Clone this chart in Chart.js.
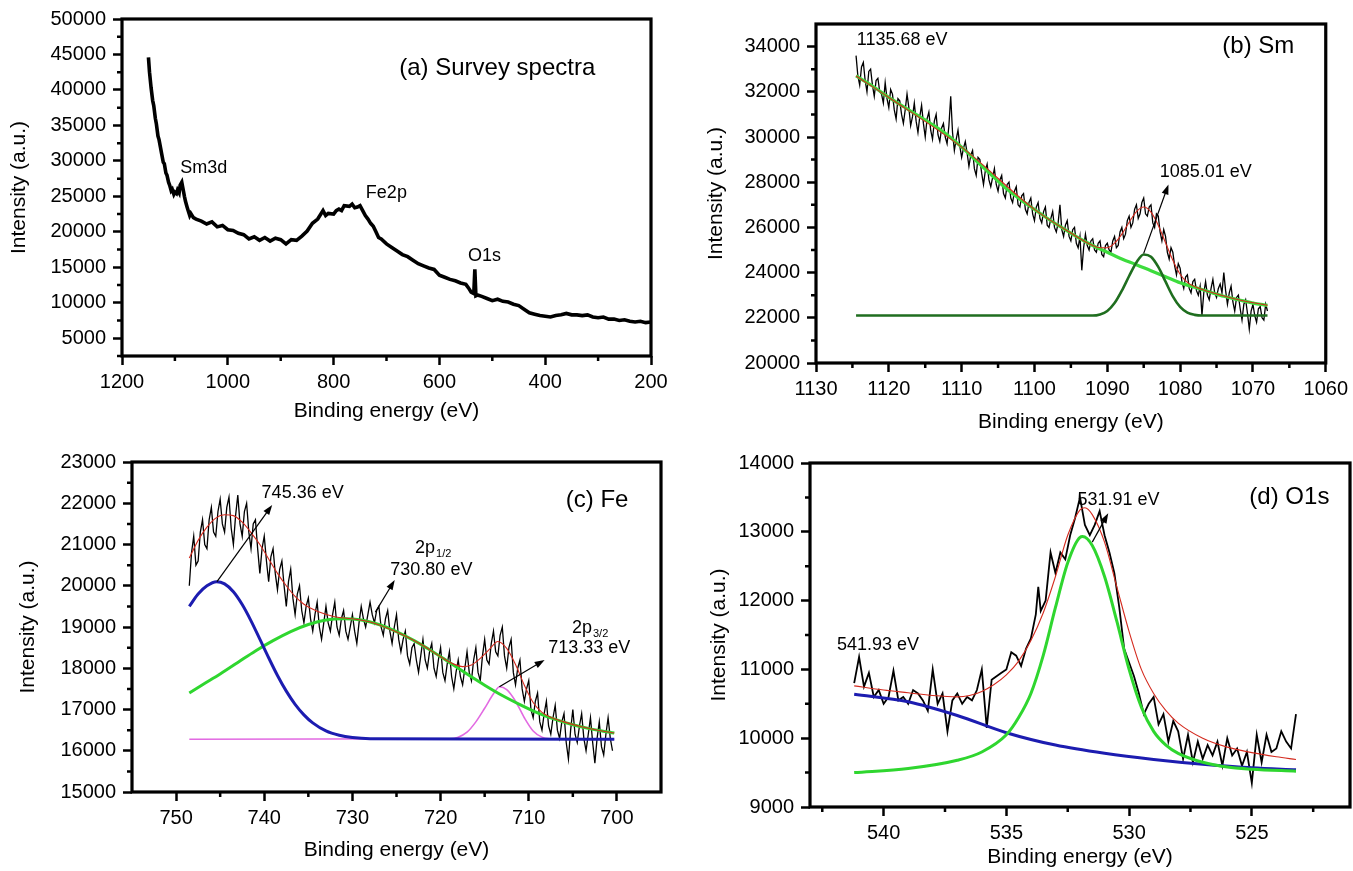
<!DOCTYPE html>
<html>
<head>
<meta charset="utf-8">
<script src="https://cdn.jsdelivr.net/npm/chart.js@4.4.1/dist/chart.umd.min.js"></script>
<style>
    html, body { margin: 0; padding: 0; background: #fff; }
    body { width: 1353px; height: 871px; position: relative; overflow: hidden; }
    canvas { position: absolute; }
</style>
</head>
<body>
<canvas id="survey-chart" width="680" height="430" style="left:0;top:0"></canvas>
<canvas id="sm-chart" width="673" height="445" style="left:680px;top:0"></canvas>
<canvas id="fe-chart" width="680" height="441" style="left:0;top:430px"></canvas>
<canvas id="o-chart" width="673" height="441" style="left:680px;top:430px"></canvas>
<script>
// (a) survey spectrum
const surveyEnergy = [1150,1148,1145,1142,1140,1137,1135,1132,1130,1127,1125,1122,1120,1117,1115,1112,1110,1107,1105,1102,1100,1097,1095,1092,1090,1087,1085,1082,1080,1077,1075,1072,1070,1065,1060,1050,1040,1030,1020,1010,1000,990,980,970,960,950,940,930,920,910,900,890,880,870,860,850,840,830,820,815,810,800,795,790,785,780,770,765,760,755,750,745,740,735,730,725,720,715,710,700,690,680,670,660,650,640,630,620,610,600,590,580,570,560,550,545,540,535,533,531,528,520,510,500,490,480,470,460,450,440,430,420,410,400,390,380,370,360,350,340,330,320,310,300,290,280,270,260,250,240,230,220,210,200];
const surveyCounts = [44600,42500,40300,38500,37800,36000,35200,33500,33000,31800,31000,29800,29600,28300,28000,27000,26600,25800,26000,25300,25600,25400,25900,25500,26600,27000,26200,25000,24300,23500,23000,22300,22600,22000,21800,21500,21100,21400,20700,20900,20300,20200,19800,19600,19000,19300,18800,19200,18700,19100,18900,18300,18900,18800,19400,20100,21200,21800,23000,22300,22600,22500,23000,23200,23000,23700,23600,23900,23400,23500,23700,23000,22300,21800,21200,20800,20000,19200,19000,18300,17800,17300,16800,16500,16000,15500,15200,14900,14700,13900,13600,13300,13100,12800,12600,12100,11500,11300,14700,11000,11100,10900,10600,10300,10500,10200,10100,9800,9600,9100,8600,8400,8200,8100,8000,8200,8300,8500,8300,8300,8200,8300,8000,7900,8000,7700,7700,7500,7600,7400,7300,7400,7200,7300];
const surveyTicksX = [1200, 1000, 800, 600, 400, 200];
const surveyMinorX = [1100, 900, 700, 500, 300];
const surveyTicksY = [5000, 10000, 15000, 20000, 25000, 30000, 35000, 40000, 45000, 50000];
const surveyMinorY = [2500, 7500, 12500, 17500, 22500, 27500, 32500, 37500, 42500, 47500];

// (b) Sm 3d
const smEnergy = [1124.5,
    1124.25,1124,1123.75,1123.5, 1123.25,1123,1122.75,1122.5, 1122.25,1122,1121.75,1121.5, 1121.25,1121,1120.75,1120.5,
    1120.25,1120,1119.75,1119.5, 1119.25,1119,1118.75,1118.5, 1118.25,1118,1117.75,1117.5, 1117.25,1117,1116.75,1116.5,
    1116.25,1116,1115.75,1115.5, 1115.25,1115,1114.75,1114.5, 1114.25,1114,1113.75,1113.5, 1113.25,1113,1112.75,1112.5,
    1112.25,1112,1111.75,1111.5, 1111.25,1111,1110.75,1110.5, 1110.25,1110,1109.75,1109.5, 1109.25,1109,1108.75,1108.5,
    1108.25,1108,1107.75,1107.5, 1107.25,1107,1106.75,1106.5, 1106.25,1106,1105.75,1105.5, 1105.25,1105,1104.75,1104.5,
    1104.25,1104,1103.75,1103.5, 1103.25,1103,1102.75,1102.5, 1102.25,1102,1101.75,1101.5, 1101.25,1101,1100.75,1100.5,
    1100.25,1100,1099.75,1099.5, 1099.25,1099,1098.75,1098.5, 1098.25,1098,1097.75,1097.5, 1097.25,1097,1096.75,1096.5,
    1096.25,1096,1095.75,1095.5, 1095.25,1095,1094.75,1094.5, 1094.25,1094,1093.75,1093.5, 1093.25,1093,1092.75,1092.5,
    1092.25,1092,1091.75,1091.5, 1091.25,1091,1090.75,1090.5, 1090.25,1090,1089.75,1089.5, 1089.25,1089,1088.75,1088.5,
    1088.25,1088,1087.75,1087.5, 1087.25,1087,1086.75,1086.5, 1086.25,1086,1085.75,1085.5, 1085.25,1085,1084.75,1084.5,
    1084.25,1084,1083.75,1083.5, 1083.25,1083,1082.75,1082.5, 1082.25,1082,1081.75,1081.5, 1081.25,1081,1080.75,1080.5,
    1080.25,1080,1079.75,1079.5, 1079.25,1079,1078.75,1078.5, 1078.25,1078,1077.75,1077.5, 1077.25,1077,1076.75,1076.5,
    1076.25,1076,1075.75,1075.5, 1075.25,1075,1074.75,1074.5, 1074.25,1074,1073.75,1073.5, 1073.25,1073,1072.75,1072.5,
    1072.25,1072,1071.75,1071.5, 1071.25,1071,1070.75,1070.5, 1070.25,1070,1069.75,1069.5, 1069.25,1069,1068.75,1068.5,
    1068.25,1068];
const smCounts = [33600,
    32700,32300,33100,33300, 32500,32000,32900,33000, 32300,31800,32500,32600, 32000,31900,31500,32400,
    31700,31300,32100,31900, 31200,30800,31700,31600, 31000,30600,31200,31900, 31300,30500,30900,31500,
    30700,30200,30900,31400, 30600,30000,30800,31100, 30300,29900,30700,31000, 30100,29800,30400,30600,
    30000,29700,30500,31800, 30200,29400,29900,30300, 29600,29100,29500,29800, 29300,28700,29200,29400,
    28600,28300,29100,29000, 28400,27900,28500,28800, 28100,27800,28200,28600, 27900,27600,28100,28300,
    27500,27300,27900,28000, 27300,27100,27600,27800, 27000,26900,27400,27500, 26800,26600,27100,27300,
    26600,26300,26900,27100, 26400,26200,26700,26900, 26100,26000,26400,26700, 26000,25800,26200,27000,
    25900,25600,26100,26300, 25600,25400,25900,26000, 25300,25100,25600,24100, 25100,25700,25200,25000,
    25400,25500,25000,24900, 25300,25400,24800,24700, 25200,25300,25000,24900, 25400,25600,25100,25200,
    25800,26000,25500,25700, 26300,26500,26000,26200, 26800,27000,26400,26600, 27100,27300,26600,26500,
    26900,27000,26200,26000, 26600,26500,25800,25400, 25900,25600,24900,24600, 25100,24900,24300,23900,
    24400,24200,23600,23300, 23800,23900,23300,23100, 23600,23700,23200,23000, 23400,22100,23100,23600,
    23000,22800,23300,23700, 23100,22900,23300,23500, 23100,24000,23200,22600, 23100,23400,22700,22300,
    22900,23000,22400,21900, 22600,22800,22200,21500, 22300,22600,22100,21800, 22400,22500,22000,21900,
    22600,22300];
const smBackEnergy = [1124.5,1122,1120,1118,1116,1114,1112,1110,1108,1106,1104,1102,1100,1098,1096,1094,1092,1090,1088,1086,1084,1082,1080,1078,1076,1074,1072,1070,1068];
const smBackCounts = [32700,32200,31750,31350,30950,30550,30100,29550,28950,28350,27750,27250,26800,26350,25950,25550,25200,24900,24600,24350,24080,23820,23550,23350,23150,22950,22800,22650,22550];
const smPeakEnergy = [1124.5,1092,1091,1090,1089,1088,1087,1086,1085,1084,1083,1082,1081,1080,1079,1078,1077,1068];
const smPeakCounts = [22100,22100,22150,22300,22650,23200,23850,24450,24800,24700,24250,23600,22950,22480,22230,22130,22100,22100];
const smFitEnergy = [1124.5,1120,1110,1100,1095,1092,1091,1090,1089,1088,1087,1086,1085,1084,1083,1082,1081,1080,1079,1078,1076,1072,1068];
const smFitCounts = [32700,31750,29550,26800,25750,25200,25100,25100,25300,25700,26230,26700,26900,26680,26100,25320,24550,23930,23570,23380,23150,22800,22550];
const smTicksX = [1130, 1120, 1110, 1100, 1090, 1080, 1070, 1060];
const smMinorX = [1125, 1115, 1105, 1095, 1085, 1075, 1065];
const smTicksY = [20000, 22000, 24000, 26000, 28000, 30000, 32000, 34000];
const smMinorY = [21000, 23000, 25000, 27000, 29000, 31000, 33000];

// (c) Fe 2p
const feEnergy = [748.5,
    748.25,748,747.75,747.5, 747.25,747,746.75,746.5, 746.25,746,745.75,745.5, 745.25,745,744.75,744.5,
    744.25,744,743.75,743.5, 743.25,743,742.75,742.5, 742.25,742,741.75,741.5, 741.25,741,740.75,740.5,
    740.25,740,739.75,739.5, 739.25,739,738.75,738.5, 738.25,738,737.75,737.5, 737.25,737,736.75,736.5,
    736.25,736,735.75,735.5, 735.25,735,734.75,734.5, 734.25,734,733.75,733.5, 733.25,733,732.75,732.5,
    732.25,732,731.75,731.5, 731.25,731,730.75,730.5, 730.25,730,729.75,729.5, 729.25,729,728.75,728.5,
    728.25,728,727.75,727.5, 727.25,727,726.75,726.5, 726.25,726,725.75,725.5, 725.25,725,724.75,724.5,
    724.25,724,723.75,723.5, 723.25,723,722.75,722.5, 722.25,722,721.75,721.5, 721.25,721,720.75,720.5,
    720.25,720,719.75,719.5, 719.25,719,718.75,718.5, 718.25,718,717.75,717.5, 717.25,717,716.75,716.5,
    716.25,716,715.75,715.5, 715.25,715,714.75,714.5, 714.25,714,713.75,713.5, 713.25,713,712.75,712.5,
    712.25,712,711.75,711.5, 711.25,711,710.75,710.5, 710.25,710,709.75,709.5, 709.25,709,708.75,708.5,
    708.25,708,707.75,707.5, 707.25,707,706.75,706.5, 706.25,706,705.75,705.5, 705.25,705,704.75,704.5,
    704.25,704,703.75,703.5, 703.25,703,702.75,702.5, 702.25,702,701.75,701.5, 701.25,701,700.75,700.5];
const feCounts = [20000,
    20800,21200,20500,20600, 21300,21600,21000,20900, 21600,21900,21300,21200, 21800,22100,21500,21300,
    21900,22150,21400,21000, 21700,22200,21500,21200, 21800,22000,21300,20900, 21500,21600,20900,20300,
    20900,21200,20600,20100, 20700,20900,20300,19900, 20400,20600,20000,19500, 20100,20400,19700,19300,
    19800,20000,19400,19100, 19500,19700,19200,18900, 19300,19600,19000,18700, 19100,19500,19100,18900,
    19300,19600,19000,18800, 19200,19400,18900,18700, 19000,19300,18900,18600, 19100,19500,19200,19000,
    19300,19600,19300,19100, 19400,19500,19000,18800, 19200,19400,18900,18600, 19000,19300,18700,18400,
    18700,18900,18300,18100, 18500,18600,18200,17900, 18300,18700,18200,18000, 18400,18600,18000,17800,
    18200,18500,17900,17700, 18100,18400,17800,17500, 17900,18200,17800,17600, 18000,18400,17900,17700,
    18200,18500,17900,17700, 18300,18700,18200,18100, 18600,18900,18400,18300, 18800,19000,18300,18000,
    18500,18700,17900,17600, 18000,18200,17500,17200, 17500,17700,17000,16800, 17200,17400,16700,16500,
    16900,17200,16600,16400, 16800,17100,16500,16300, 16700,16900,16200,15800, 16500,17000,16400,16200,
    16600,16900,16300,16000, 16400,16800,16200,15700, 16300,16700,16100,15900, 16400,16800,16300,16000];
const feFitEnergy = [748.5,747.5,746.5,745.5,744.5,743.5,742.5,741.5,740.5,739.5,738.5,737.5,736.5,735.5,734,732,730,728,726,724,722,720,718.5,717.5,716.5,715.5,714.5,713.5,712.5,711.5,710.5,709.5,708.5,707.5,706,704,702,700.3];
const feFitCounts = [20670,21100,21420,21640,21720,21700,21540,21290,21000,20650,20300,20000,19740,19550,19380,19250,19200,19120,18970,18780,18550,18280,18100,18040,18080,18240,18450,18650,18480,18090,17590,17170,16930,16810,16700,16580,16490,16430];
const feGreenEnergy = [748.5,747,745,743,741,739,737,735,733,731,729,727,725,723,721,719,717,715,713,711,709,707,705,703,701,700.3];
const feGreenCounts = [17400,17600,17860,18140,18420,18670,18890,19060,19170,19200,19170,19060,18890,18670,18420,18140,17860,17590,17340,17120,16920,16760,16630,16530,16455,16430];
const feBlueEnergy = [748.5,747.5,746.5,745.4,744.5,743.5,742.5,741.5,740.5,739.5,738.5,737.5,736.5,735.5,734.5,733,731.5,730,728,700.3];
const feBlueCounts = [19500,19800,20000,20100,20045,19855,19545,19150,18705,18255,17825,17445,17125,16870,16675,16480,16375,16320,16292,16280];
const feMagEnergy = [748.5,719,718,717,716,715,714,713.3,712.5,711.5,710.5,709.5,708.5,707.5,706,700.3];
const feMagCounts = [16280,16290,16330,16450,16700,17030,17380,17550,17480,17200,16800,16480,16330,16290,16280,16280];
const feTicksX = [750, 740, 730, 720, 710, 700];
const feMinorX = [745, 735, 725, 715, 705];
const feTicksY = [15000, 16000, 17000, 18000, 19000, 20000, 21000, 22000, 23000];
const feMinorY = [15500, 16500, 17500, 18500, 19500, 20500, 21500, 22500];

// (d) O 1s
const oEnergy = [541.2,541,540.8,540.6,540.4,540.2,540,539.8,539.6,539.4,539.2,539,538.8,538.6,538.4,538.2,538,537.8,537.6,537.4,537.2,537,536.8,536.6,536.4,536.2,536,535.8,535.6,535.4,535.2,535,534.8,534.6,534.4,534.2,534,533.8,533.7,533.6,533.4,533.2,533,532.8,532.6,532.4,532.2,532,531.8,531.6,531.4,531.2,531,530.8,530.6,530.4,530.2,530,529.8,529.6,529.4,529.2,529,528.8,528.6,528.4,528.2,528,527.8,527.6,527.4,527.2,527,526.8,526.6,526.4,526.2,526,525.8,525.6,525.4,525.2,525,524.8,524.6,524.4,524.2,524,523.8,523.6,523.4,523.2];
const oCounts = [10800,11180,10750,10950,10600,10700,10500,10600,10980,10550,10600,10500,10700,10650,10550,10400,11000,10500,10650,10100,10550,10650,10500,10600,10550,10700,11000,10150,10850,10900,10950,11000,11250,11200,11050,11300,11450,11800,12200,11850,12000,12700,12400,12700,12600,12950,13200,13500,13100,12950,13100,13300,12950,12700,12400,11900,11300,11100,10900,10650,10350,10500,10600,10200,10350,9950,10250,10100,9700,10050,9650,9950,9700,9900,9750,9950,9600,10000,9750,9850,9600,9800,9350,10050,9650,10050,9800,9850,10100,9950,9850,10350];
const oFitEnergy = [541.2,540,539,538,537,536.5,536,535.5,535,534.5,534,533.5,533,532.5,532,531.8,531.5,531,530.5,530,529.5,529,528.5,528,527,526,525,524,523.2];
const oFitCounts = [10760,10700,10660,10620,10600,10620,10680,10780,10920,11120,11420,11820,12350,12950,13320,13350,13250,12850,12200,11550,11000,10650,10400,10220,10000,9870,9790,9730,9690];
const oGreenEnergy = [541.2,539,537,536,535,534.5,534,533.5,533,532.5,532,531.9,531.5,531,530.5,530,529.5,529,528.5,528,527,526,525,523.2];
const oGreenCounts = [9500,9560,9680,9800,10050,10300,10650,11200,11900,12550,12920,12930,12800,12350,11700,11000,10450,10100,9900,9780,9650,9580,9550,9520];
const oBlueEnergy = [541.2,539,537,535,533,531,529,527,525,523.2];
const oBlueCounts = [10640,10530,10330,10080,9900,9780,9690,9620,9570,9540];
const oTicksX = [540, 535, 530, 525];
const oMinorX = [542.5, 537.5, 532.5, 527.5, 522.5];
const oTicksY = [9000, 10000, 11000, 12000, 13000, 14000];
const oMinorY = [9500, 10500, 11500, 12500, 13500];

const FONT = "'Liberation Sans', Arial, Helvetica, sans-serif";

function toPoints(xs, ys) {
    return xs.map((x, i) => ({ x: x, y: ys[i] }));
}

function drawArrow(ctx, x1, y1, x2, y2) {
    const ang = Math.atan2(y2 - y1, x2 - x1);
    ctx.beginPath();
    ctx.moveTo(x1, y1);
    ctx.lineTo(x2 - 7 * Math.cos(ang), y2 - 7 * Math.sin(ang));
    ctx.lineWidth = 1.2;
    ctx.stroke();
    ctx.beginPath();
    ctx.moveTo(x2, y2);
    ctx.lineTo(x2 - 10 * Math.cos(ang) + 3.5 * Math.sin(ang), y2 - 10 * Math.sin(ang) - 3.5 * Math.cos(ang));
    ctx.lineTo(x2 - 10 * Math.cos(ang) - 3.5 * Math.sin(ang), y2 - 10 * Math.sin(ang) + 3.5 * Math.cos(ang));
    ctx.closePath();
    ctx.fill();
}

// frame, minor ticks, peak labels and arrows
const decorPlugin = {
    id: 'decor',
    afterDraw(chart, args, opts) {
        const { ctx, chartArea: a } = chart;
        const xs = chart.scales.x, ys = chart.scales.y;
        ctx.save();
        ctx.strokeStyle = '#000';
        ctx.fillStyle = '#000';
        ctx.lineWidth = 2.5;
        ctx.beginPath();
        (opts.minorX || []).forEach(v => {
            const px = xs.getPixelForValue(v);
            ctx.moveTo(px, a.bottom);
            ctx.lineTo(px, a.bottom + 5);
        });
        (opts.minorY || []).forEach(v => {
            const py = ys.getPixelForValue(v);
            ctx.moveTo(a.left, py);
            ctx.lineTo(a.left - 5, py);
        });
        ctx.stroke();

        ctx.lineWidth = 3.2;
        ctx.strokeRect(a.left, a.top, a.right - a.left, a.bottom - a.top);

        (opts.arrows || []).forEach(ar => {
            drawArrow(ctx,
                xs.getPixelForValue(ar.from[0]), ys.getPixelForValue(ar.from[1]),
                xs.getPixelForValue(ar.to[0]), ys.getPixelForValue(ar.to[1]));
        });

        ctx.textAlign = 'left';
        ctx.textBaseline = 'middle';
        (opts.notes || []).forEach(n => {
            const size = n.size || 18;
            const px = xs.getPixelForValue(n.x);
            const py = ys.getPixelForValue(n.y);
            ctx.font = `${size}px ${FONT}`;
            ctx.fillText(n.text, px, py);
            if (n.sub) {
                const w = ctx.measureText(n.text).width;
                ctx.font = `${Math.round(size * 0.62)}px ${FONT}`;
                ctx.fillText(n.sub, px + w + 1, py + 6);
            }
        });
        ctx.restore();
    }
};

function line(data, color, width, smooth) {
    return {
        data: data,
        borderColor: color,
        borderWidth: width,
        pointRadius: 0,
        fill: false,
        tension: 0,
        cubicInterpolationMode: smooth ? 'monotone' : 'default'
    };
}

function buildPanel(id, p) {
    const tickFont = { family: FONT, size: 20 };
    const titleFont = { family: FONT, size: 21 };
    return new Chart(document.getElementById(id), {
        type: 'line',
        data: { datasets: p.datasets },
        options: {
            responsive: false,
            animation: false,
            devicePixelRatio: 1,
            layout: { padding: { top: p.padTop, right: p.padRight, left: 0, bottom: 0 } },
            plugins: {
                legend: { display: false },
                tooltip: { enabled: false },
                decor: { minorX: p.minorX, minorY: p.minorY, notes: p.notes, arrows: p.arrows }
            },
            scales: {
                x: {
                    type: 'linear',
                    reverse: true,
                    min: p.xMin,
                    max: p.xMax,
                    afterBuildTicks: s => { s.ticks = p.ticksX.map(v => ({ value: v })); },
                    afterFit: s => { s.height = p.xHeight; },
                    grid: { drawOnChartArea: false, tickLength: 9, tickWidth: 2.5, tickColor: '#000', color: '#000' },
                    border: { display: false },
                    ticks: { color: '#000', font: tickFont, padding: 5, maxRotation: 0, autoSkip: false, callback: v => String(v) },
                    title: { display: true, text: 'Binding energy (eV)', color: '#000', font: titleFont, padding: { top: 0, bottom: p.xTitlePad } }
                },
                y: {
                    type: 'linear',
                    min: p.yMin,
                    max: p.yMax,
                    afterBuildTicks: s => { s.ticks = p.ticksY.map(v => ({ value: v })); },
                    afterFit: s => { s.width = p.yWidth; },
                    grid: { drawOnChartArea: false, tickLength: 9, tickWidth: 2.5, tickColor: '#000', color: '#000' },
                    border: { display: false },
                    ticks: { color: '#000', font: tickFont, padding: 7, autoSkip: false, callback: v => String(v) },
                    title: { display: true, text: 'Intensity (a.u.)', color: '#000', font: titleFont, padding: { top: p.yTitlePad, bottom: 0 } }
                }
            }
        },
        plugins: [decorPlugin]
    });
}

buildPanel('survey-chart', {
    datasets: [line(toPoints(surveyEnergy, surveyCounts), '#000', 3.6, false)],
    xMin: 200, xMax: 1200, yMin: 2500, yMax: 50000,
    ticksX: surveyTicksX, ticksY: surveyTicksY, minorX: surveyMinorX, minorY: surveyMinorY,
    padTop: 17, padRight: 29, yWidth: 122, xHeight: 74, yTitlePad: 7, xTitlePad: 6,
    notes: [
        { text: '(a) Survey spectra', x: 676, y: 43000, size: 24 },
        { text: 'Sm3d', x: 1090, y: 29000 },
        { text: 'Fe2p', x: 739, y: 25500 },
        { text: 'O1s', x: 546, y: 16650 }
    ]
});

buildPanel('sm-chart', {
    datasets: [
        line(toPoints(smFitEnergy, smFitCounts), '#d42a1e', 1.1, true),
        line(toPoints(smPeakEnergy, smPeakCounts), '#1f6e1f', 2.6, true),
        line(toPoints(smBackEnergy, smBackCounts), '#3ddc3d', 3.2, true),
        line(toPoints(smEnergy, smCounts), '#000', 1.3, false)
    ],
    xMin: 1060, xMax: 1130, yMin: 20000, yMax: 35000,
    ticksX: smTicksX, ticksY: smTicksY, minorX: smMinorX, minorY: smMinorY,
    padTop: 24, padRight: 25, yWidth: 136, xHeight: 82, yTitlePad: 24, xTitlePad: 10,
    notes: [
        { text: '(b) Sm', x: 1074.2, y: 34000, size: 24 },
        { text: '1135.68 eV', x: 1124.4, y: 34300 },
        { text: '1085.01 eV', x: 1082.8, y: 28450 }
    ],
    arrows: [{ from: [1085, 24850], to: [1081.6, 27900] }]
});

buildPanel('fe-chart', {
    datasets: [
        line(toPoints(feFitEnergy, feFitCounts), '#d42a1e', 1.1, true),
        line(toPoints(feBlueEnergy, feBlueCounts), '#1c1cb0', 3, true),
        line(toPoints(feGreenEnergy, feGreenCounts), '#2fd62f', 3, true),
        line(toPoints(feMagEnergy, feMagCounts), '#e26ae2', 1.6, true),
        line(toPoints(feEnergy, feCounts), '#000', 1.3, false)
    ],
    xMin: 695, xMax: 755, yMin: 15000, yMax: 23000,
    ticksX: feTicksX, ticksY: feTicksY, minorX: feMinorX, minorY: feMinorY,
    padTop: 32, padRight: 19, yWidth: 132, xHeight: 79, yTitlePad: 16, xTitlePad: 8,
    notes: [
        { text: '(c) Fe', x: 705.8, y: 22080, size: 24 },
        { text: '745.36 eV', x: 740.3, y: 22250 },
        { text: '2p', sub: '1/2', x: 722.9, y: 20915 },
        { text: '730.80 eV', x: 725.7, y: 20380 },
        { text: '2p', sub: '3/2', x: 705.1, y: 18975 },
        { text: '713.33 eV', x: 707.8, y: 18490 }
    ],
    arrows: [
        { from: [745.36, 20100], to: [739.1, 21960] },
        { from: [727.4, 19360], to: [725.2, 20140] },
        { from: [713.33, 17550], to: [708.2, 18200] }
    ]
});

buildPanel('o-chart', {
    datasets: [
        line(toPoints(oFitEnergy, oFitCounts), '#d42a1e', 1.1, true),
        line(toPoints(oGreenEnergy, oGreenCounts), '#2fd62f', 3, true),
        line(toPoints(oBlueEnergy, oBlueCounts), '#1c1cb0', 3, true),
        line(toPoints(oEnergy, oCounts), '#000', 1.8, false)
    ],
    xMin: 521, xMax: 543, yMin: 9000, yMax: 14000,
    ticksX: oTicksX, ticksY: oTicksY, minorX: oMinorX, minorY: oMinorY,
    padTop: 33, padRight: 3, yWidth: 130, xHeight: 64, yTitlePad: 27, xTitlePad: 1,
    notes: [
        { text: '(d) O1s', x: 525.1, y: 13500, size: 24 },
        { text: '531.91 eV', x: 532.1, y: 13460 },
        { text: '541.93 eV', x: 541.9, y: 11355 }
    ],
    arrows: [{ from: [531.5, 12850], to: [530.85, 13270] }]
});
</script>
</body>
</html>
